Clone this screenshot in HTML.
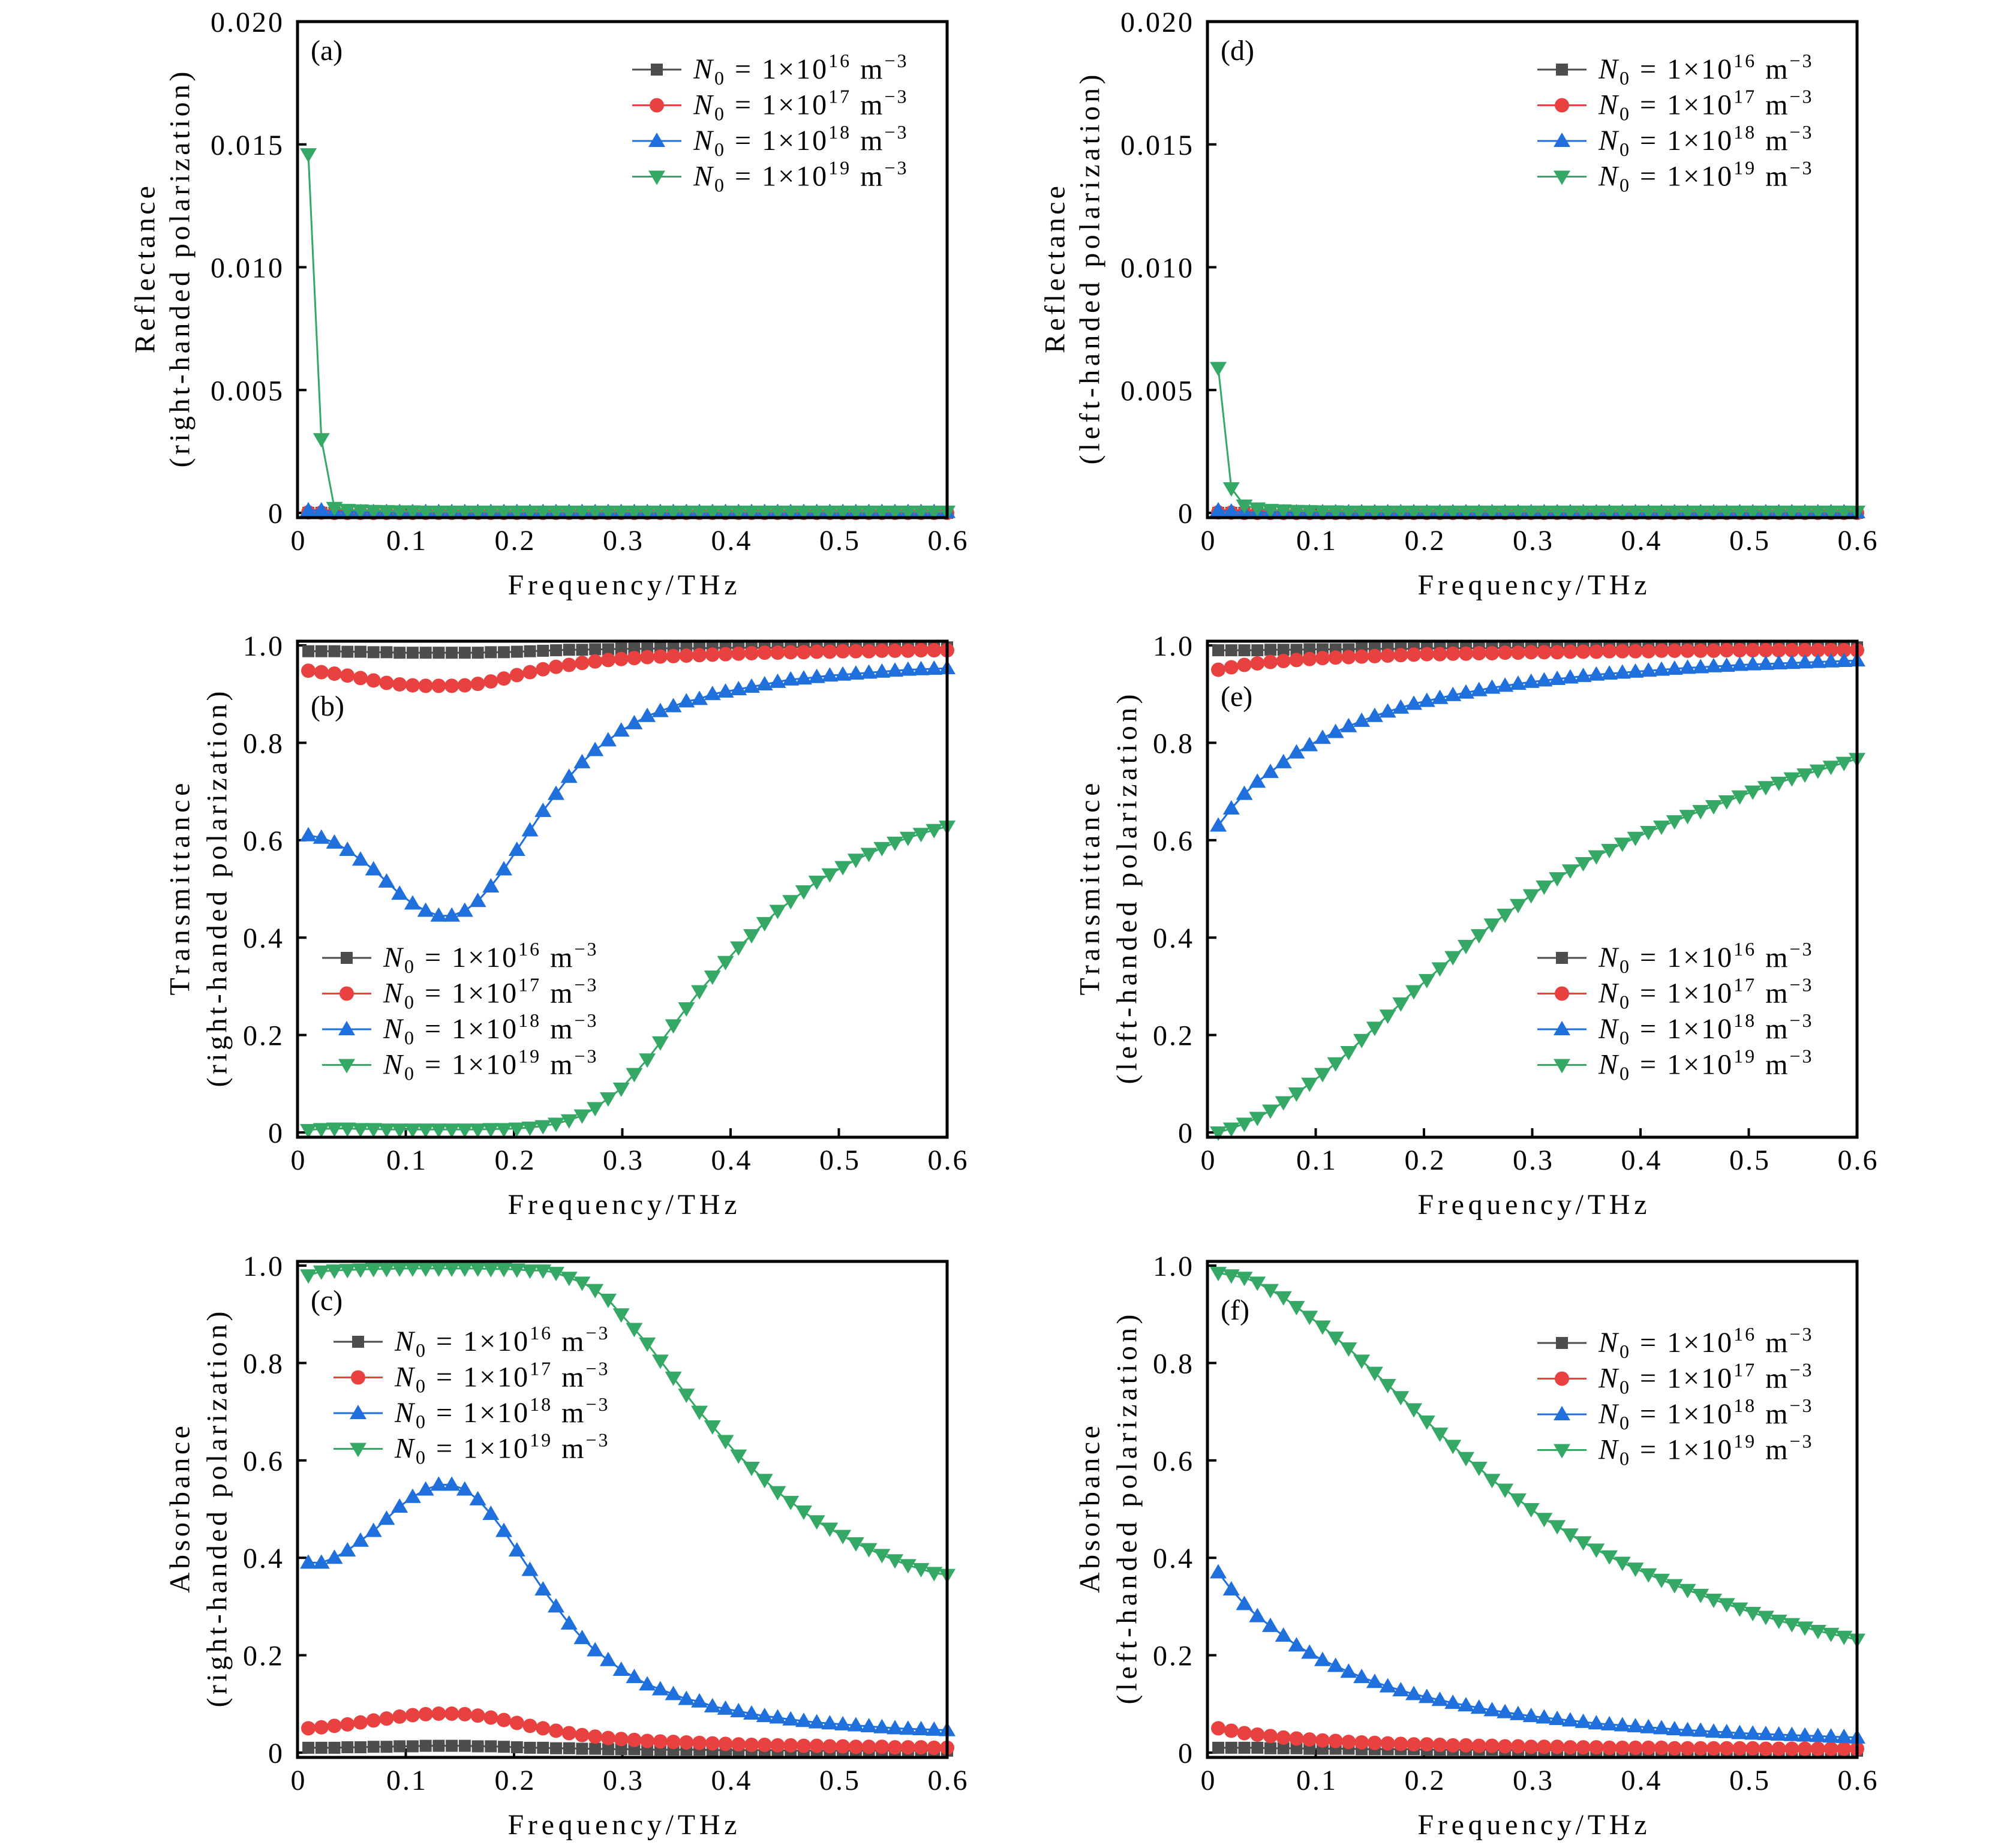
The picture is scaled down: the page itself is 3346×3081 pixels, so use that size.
<!DOCTYPE html>
<html><head><meta charset="utf-8"><style>
html,body{margin:0;padding:0;background:#fff}
svg{display:block;font-family:"Liberation Serif",serif}
</style></head><body>
<svg id="fig" width="3346" height="3081" viewBox="0 0 3346 3081" xmlns="http://www.w3.org/2000/svg"></svg>
<script>
const freqCount = 50;
const freqStart = 0.01, freqEnd = 0.60;
const seriesNames = ["1e16","1e17","1e18","1e19"];
const legendExps = ["16","17","18","19"];
const xTicks = [0,0.1,0.2,0.3,0.4,0.5,0.6];
const xTickLabels = ["0","0.1","0.2","0.3","0.4","0.5","0.6"];
const rTicks = [0,0.005,0.010,0.015,0.020];
const rTickLabels = ["0","0.005","0.010","0.015","0.020"];
const taTicks = [0,0.2,0.4,0.6,0.8,1.0];
const taTickLabels = ["0","0.2","0.4","0.6","0.8","1.0"];

// (a) reflectance right-handed
const aBlack = [0,0,0,0,0,0,0,0,0,0,0,0,0,0,0,0,0,0,0,0,0,0,0,0,0,0,0,0,0,0,0,0,0,0,0,0,0,0,0,0,0,0,0,0,0,0,0,0,0,0];
const aRed = [0.00002,0.00001,0,0,0,0,0,0,0,0,0,0,0,0,0,0,0,0,0,0,0,0,0,0,0,0,0,0,0,0,0,0,0,0,0,0,0,0,0,0,0,0,0,0,0,0,0,0,0,0];
const aBlue = [0.0001,0.0001,0.00005,0.00004,0.00003,0.00003,0.00003,0.00003,0.00003,0.00003,0.00003,0.00003,0.00003,0.00003,0.00003,0.00003,0.00003,0.00003,0.00003,0.00003,0.00003,0.00003,0.00003,0.00003,0.00003,0.00003,0.00003,0.00003,0.00003,0.00003,0.00003,0.00003,0.00003,0.00003,0.00003,0.00003,0.00003,0.00003,0.00003,0.00003,0.00003,0.00003,0.00003,0.00003,0.00003,0.00003,0.00003,0.00003,0.00003,0.00003];
const aGreen = [0.0146,0.0030,0.0002,0.00012,0.0001,0.00008,0.00007,0.00006,0.00006,0.00005,0.00005,0.00005,0.00005,0.00005,0.00005,0.00005,0.00005,0.00005,0.00005,0.00005,0.00005,0.00005,0.00005,0.00005,0.00005,0.00005,0.00005,0.00005,0.00005,0.00005,0.00005,0.00005,0.00005,0.00005,0.00005,0.00005,0.00005,0.00005,0.00005,0.00005,0.00005,0.00005,0.00005,0.00005,0.00005,0.00005,0.00005,0.00005,0.00005,0.00005];
// (b) transmittance right-handed
const bBlack = [0.988,0.988,0.988,0.987,0.987,0.986,0.986,0.985,0.985,0.985,0.985,0.985,0.985,0.985,0.986,0.986,0.987,0.988,0.989,0.99,0.991,0.991,0.992,0.992,0.993,0.993,0.993,0.994,0.994,0.994,0.994,0.995,0.995,0.995,0.995,0.995,0.995,0.996,0.996,0.996,0.996,0.996,0.996,0.996,0.996,0.996,0.996,0.996,0.996,0.996];
const bRed = [0.948,0.945,0.942,0.938,0.933,0.928,0.923,0.92,0.918,0.917,0.917,0.917,0.918,0.921,0.926,0.932,0.939,0.945,0.951,0.956,0.96,0.964,0.967,0.97,0.972,0.974,0.976,0.977,0.978,0.979,0.98,0.981,0.982,0.983,0.984,0.985,0.985,0.986,0.986,0.987,0.987,0.988,0.988,0.988,0.989,0.989,0.989,0.99,0.99,0.99];
const bBlue = [0.61,0.605,0.595,0.58,0.56,0.54,0.515,0.49,0.47,0.455,0.445,0.445,0.455,0.475,0.505,0.54,0.58,0.62,0.66,0.695,0.73,0.76,0.785,0.805,0.825,0.84,0.855,0.865,0.875,0.885,0.89,0.9,0.905,0.91,0.915,0.92,0.925,0.93,0.932,0.935,0.938,0.94,0.942,0.944,0.946,0.948,0.95,0.951,0.952,0.953];
const bGreen = [0.005,0.007,0.008,0.008,0.007,0.007,0.006,0.006,0.006,0.006,0.006,0.006,0.006,0.006,0.007,0.007,0.008,0.01,0.013,0.018,0.025,0.035,0.05,0.07,0.09,0.12,0.15,0.185,0.22,0.255,0.29,0.32,0.35,0.38,0.405,0.43,0.455,0.475,0.495,0.515,0.53,0.545,0.56,0.572,0.584,0.595,0.605,0.613,0.621,0.628];
// (c) absorbance right-handed
const cBlack = [0.01,0.01,0.01,0.011,0.011,0.012,0.012,0.013,0.013,0.014,0.014,0.014,0.014,0.013,0.013,0.012,0.011,0.01,0.01,0.009,0.009,0.008,0.008,0.007,0.007,0.007,0.006,0.006,0.006,0.006,0.006,0.005,0.005,0.005,0.005,0.005,0.005,0.004,0.004,0.004,0.004,0.004,0.004,0.004,0.004,0.004,0.004,0.004,0.004,0.004];
const cRed = [0.05,0.052,0.055,0.058,0.062,0.066,0.07,0.074,0.077,0.079,0.08,0.08,0.079,0.076,0.072,0.067,0.061,0.055,0.05,0.045,0.04,0.036,0.033,0.03,0.028,0.026,0.024,0.023,0.022,0.021,0.02,0.019,0.018,0.017,0.016,0.016,0.015,0.015,0.014,0.014,0.013,0.013,0.012,0.012,0.012,0.011,0.011,0.011,0.01,0.01];
const cBlue = [0.39,0.39,0.40,0.415,0.435,0.455,0.48,0.505,0.525,0.54,0.55,0.55,0.54,0.52,0.49,0.455,0.415,0.375,0.335,0.3,0.265,0.235,0.21,0.19,0.17,0.155,0.14,0.13,0.12,0.11,0.105,0.095,0.09,0.085,0.08,0.075,0.072,0.068,0.065,0.062,0.06,0.058,0.056,0.054,0.052,0.05,0.049,0.048,0.047,0.046];
const cGreen = [0.98,0.988,0.99,0.991,0.992,0.993,0.993,0.994,0.994,0.994,0.994,0.994,0.994,0.994,0.993,0.993,0.992,0.99,0.99,0.985,0.975,0.965,0.95,0.93,0.90,0.87,0.84,0.805,0.77,0.735,0.70,0.67,0.64,0.61,0.585,0.56,0.535,0.515,0.495,0.475,0.46,0.445,0.43,0.418,0.406,0.395,0.385,0.377,0.369,0.365];
// (d) reflectance left-handed
const dBlack = [0,0,0,0,0,0,0,0,0,0,0,0,0,0,0,0,0,0,0,0,0,0,0,0,0,0,0,0,0,0,0,0,0,0,0,0,0,0,0,0,0,0,0,0,0,0,0,0,0,0];
const dRed = [0.00002,0.00001,0,0,0,0,0,0,0,0,0,0,0,0,0,0,0,0,0,0,0,0,0,0,0,0,0,0,0,0,0,0,0,0,0,0,0,0,0,0,0,0,0,0,0,0,0,0,0,0];
const dBlue = [0.0001,0.00005,0.00003,0.00002,0.00002,0.00002,0.00002,0.00002,0.00002,0.00002,0.00002,0.00002,0.00002,0.00002,0.00002,0.00002,0.00002,0.00002,0.00002,0.00002,0.00002,0.00002,0.00002,0.00002,0.00002,0.00002,0.00002,0.00002,0.00002,0.00002,0.00002,0.00002,0.00002,0.00002,0.00002,0.00002,0.00002,0.00002,0.00002,0.00002,0.00002,0.00002,0.00002,0.00002,0.00002,0.00002,0.00002,0.00002,0.00002,0.00002];
const dGreen = [0.0059,0.0010,0.0003,0.00018,0.00012,0.0001,0.00008,0.00007,0.00006,0.00006,0.00005,0.00005,0.00005,0.00005,0.00005,0.00005,0.00005,0.00005,0.00005,0.00005,0.00005,0.00005,0.00005,0.00005,0.00005,0.00005,0.00005,0.00005,0.00005,0.00005,0.00005,0.00005,0.00005,0.00005,0.00005,0.00005,0.00005,0.00005,0.00005,0.00005,0.00005,0.00005,0.00005,0.00005,0.00005,0.00005,0.00005,0.00005,0.00005,0.00005];
// (e) transmittance left-handed
const eBlack = [0.99,0.99,0.99,0.99,0.991,0.991,0.991,0.992,0.992,0.992,0.992,0.993,0.993,0.993,0.993,0.993,0.994,0.994,0.994,0.994,0.994,0.994,0.995,0.995,0.995,0.995,0.995,0.995,0.995,0.995,0.995,0.996,0.996,0.996,0.996,0.996,0.996,0.996,0.996,0.996,0.996,0.996,0.996,0.996,0.996,0.996,0.996,0.996,0.996,0.996];
const eRed = [0.95,0.955,0.96,0.963,0.966,0.968,0.97,0.972,0.974,0.975,0.976,0.977,0.978,0.979,0.98,0.981,0.982,0.982,0.983,0.983,0.984,0.984,0.985,0.985,0.986,0.986,0.986,0.987,0.987,0.987,0.988,0.988,0.988,0.988,0.989,0.989,0.989,0.989,0.989,0.99,0.99,0.99,0.99,0.99,0.99,0.99,0.99,0.99,0.99,0.99];
const eBlue = [0.63,0.665,0.695,0.72,0.74,0.76,0.78,0.795,0.81,0.822,0.834,0.845,0.855,0.864,0.872,0.88,0.886,0.892,0.898,0.903,0.908,0.913,0.917,0.921,0.925,0.928,0.931,0.934,0.937,0.94,0.942,0.944,0.946,0.948,0.95,0.952,0.954,0.955,0.957,0.958,0.96,0.961,0.962,0.963,0.964,0.965,0.966,0.967,0.968,0.969];
const eGreen = [0.0,0.008,0.018,0.03,0.045,0.062,0.08,0.1,0.12,0.142,0.165,0.19,0.215,0.24,0.265,0.29,0.313,0.337,0.36,0.383,0.405,0.427,0.447,0.467,0.487,0.505,0.522,0.538,0.553,0.567,0.58,0.593,0.605,0.617,0.628,0.639,0.65,0.66,0.67,0.68,0.69,0.7,0.709,0.718,0.727,0.735,0.743,0.751,0.759,0.767];
// (f) absorbance left-handed
const fBlack = [0.01,0.01,0.01,0.01,0.009,0.009,0.009,0.008,0.008,0.008,0.008,0.007,0.007,0.007,0.007,0.007,0.006,0.006,0.006,0.006,0.006,0.006,0.005,0.005,0.005,0.005,0.005,0.005,0.005,0.005,0.005,0.004,0.004,0.004,0.004,0.004,0.004,0.004,0.004,0.004,0.004,0.004,0.004,0.004,0.004,0.004,0.004,0.004,0.004,0.004];
const fRed = [0.05,0.045,0.04,0.037,0.034,0.031,0.029,0.027,0.025,0.024,0.022,0.021,0.02,0.019,0.018,0.017,0.017,0.016,0.015,0.015,0.014,0.014,0.013,0.013,0.012,0.012,0.012,0.011,0.011,0.011,0.01,0.01,0.01,0.01,0.01,0.009,0.009,0.009,0.009,0.009,0.009,0.009,0.008,0.008,0.008,0.008,0.008,0.008,0.008,0.008];
const fBlue = [0.37,0.335,0.305,0.28,0.26,0.24,0.22,0.205,0.19,0.178,0.166,0.155,0.145,0.136,0.128,0.12,0.114,0.108,0.102,0.097,0.092,0.087,0.083,0.079,0.075,0.072,0.069,0.066,0.063,0.06,0.058,0.056,0.054,0.052,0.05,0.048,0.046,0.045,0.043,0.042,0.04,0.039,0.038,0.037,0.036,0.035,0.034,0.033,0.032,0.031];
const fGreen = [0.985,0.98,0.975,0.965,0.95,0.935,0.915,0.895,0.875,0.852,0.83,0.805,0.78,0.755,0.73,0.705,0.68,0.655,0.63,0.605,0.585,0.56,0.54,0.52,0.5,0.48,0.465,0.448,0.432,0.417,0.403,0.39,0.378,0.366,0.355,0.344,0.334,0.324,0.314,0.305,0.296,0.287,0.279,0.271,0.264,0.257,0.25,0.244,0.238,0.232];

const NS = "http://www.w3.org/2000/svg";
const svg = document.getElementById("fig");
const colors = ["#4d4d4d","#e8413f","#1f6fdc","#35a866"];
const markers = ["square","circle","up","down"];

function mk(tag, attrs, parent){
  const e = document.createElementNS(NS, tag);
  for (const k in attrs) e.setAttribute(k, attrs[k]);
  (parent||svg).appendChild(e);
  return e;
}
function freqs(){
  const a=[]; for(let i=0;i<freqCount;i++) a.push(freqStart+(freqEnd-freqStart)*i/(freqCount-1)); return a;
}
function drawMarker(g, type, x, y, col){
  let m;
  if(type==="square") m = mk("rect",{x:x-10,y:y-10,width:20,height:20,fill:col},g);
  else if(type==="circle") m = mk("circle",{cx:x,cy:y,r:12,fill:col},g);
  else if(type==="up") m = mk("polygon",{points:`${x},${y-14} ${x-14},${y+10} ${x+14},${y+10}`,fill:col},g);
  else m = mk("polygon",{points:`${x},${y+14} ${x-14},${y-10} ${x+14},${y-10}`,fill:col},g);
  
  
}

const panels = [
  {id:"a",x0:496,y0:36,ymax:0.020,ticks:rTicks,labels:rTickLabels,data:[aBlack,aRed,aBlue,aGreen],t1:"Reflectance",t2:"(right-handed polarization)",l1:279,l2:660,tx:[-254,-196],lab:[518,100],leg:[1054,116]},
  {id:"b",x0:496,y0:1069,ymax:1.0,ticks:taTicks,labels:taTickLabels,data:[bBlack,bRed,bBlue,bGreen],t1:"Transmittance",t2:"(right-handed polarization)",l1:354,l2:660,tx:[-196,-134],lab:[518,1193],leg:[537,1597]},
  {id:"c",x0:496,y0:2103,ymax:1.0,ticks:taTicks,labels:taTickLabels,data:[cBlack,cRed,cBlue,cGreen],t1:"Absorbance",t2:"(right-handed polarization)",l1:279,l2:660,tx:[-196,-134],lab:[518,2184],leg:[556,2237]},
  {id:"d",x0:2013,y0:36,ymax:0.020,ticks:rTicks,labels:rTickLabels,data:[dBlack,dRed,dBlue,dGreen],t1:"Reflectance",t2:"(left-handed polarization)",l1:279,l2:650,tx:[-254,-196],lab:[2035,100],leg:[2563,116]},
  {id:"e",x0:2013,y0:1069,ymax:1.0,ticks:taTicks,labels:taTickLabels,data:[eBlack,eRed,eBlue,eGreen],t1:"Transmittance",t2:"(left-handed polarization)",l1:354,l2:650,tx:[-196,-134],lab:[2035,1177],leg:[2563,1597]},
  {id:"f",x0:2013,y0:2103,ymax:1.0,ticks:taTicks,labels:taTickLabels,data:[fBlack,fRed,fBlue,fGreen],t1:"Absorbance",t2:"(left-handed polarization)",l1:279,l2:650,tx:[-196,-134],lab:[2035,2200],leg:[2563,2239]}
];
const W=1083, H=827;

panels.forEach(p=>{
  const g = mk("g",{});
  
  
  const isR = p.ymax < 0.5;
  const yTop = isR ? p.y0 : p.y0+7;
  const yBot = p.y0+H-8;
  const sx = v => p.x0 + v/0.6*W;
  const sy = v => yBot - v/p.ymax*(yBot-yTop);
  p.ticks.forEach((t,i)=>{
    const y=sy(t);
    mk("line",{x1:p.x0,x2:p.x0+15,y1:y,y2:y,stroke:"#000","stroke-width":4},g);
    const tl = mk("text",{x:p.x0-22,y:y+17,"font-size":48,"letter-spacing":3,"text-anchor":"end"},g);
    tl.textContent = p.labels[i];
    
    
  });
  xTicks.forEach((t,i)=>{
    const x=sx(t);
    mk("line",{x1:x,x2:x,y1:p.y0+H,y2:p.y0+H-15,stroke:"#000","stroke-width":4},g);
    const tl = mk("text",{x:x+2,y:p.y0+H+54,"font-size":48,"letter-spacing":3,"text-anchor":"middle"},g);
    tl.textContent = xTickLabels[i];
    
    
  });
  const fr = freqs();
  p.data.forEach((arr,si)=>{
    const sg = mk("g",{},g);
    
    
    const pts = arr.map((v,i)=>sx(fr[i]).toFixed(1)+","+sy(v).toFixed(1)).join(" ");
    const pl = mk("polyline",{points:pts,fill:"none",stroke:colors[si],"stroke-width":3},sg);
    
    
    arr.forEach((v,i)=>drawMarker(sg,markers[si],sx(fr[i]),sy(v),colors[si]));
  });
  const fr2 = mk("rect",{x:p.x0,y:p.y0,width:W,height:H,fill:"none",stroke:"#000","stroke-width":5},g);
  
  
  const pl = mk("text",{x:p.lab[0],y:p.lab[1],"font-size":48},g);
  pl.textContent = "("+p.id+")";
  
  
  const xt = mk("text",{x:p.x0+W/2,y:p.y0+H+128,"font-size":48,"text-anchor":"middle",textLength:382,lengthAdjust:"spacing"},g);
  xt.textContent = "Frequency/THz";
  
  
  const cy = p.y0+H/2;
  const cx1 = p.x0+p.tx[0], cx2 = p.x0+p.tx[1];
  const y1 = mk("text",{x:cx1,y:cy,"font-size":48,"text-anchor":"middle",textLength:p.l1,lengthAdjust:"spacing",transform:`rotate(-90 ${cx1} ${cy})`,"dominant-baseline":"central"},g);
  y1.textContent = p.t1;
  
  
  const y2 = mk("text",{x:cx2,y:cy,"font-size":48,"text-anchor":"middle",textLength:p.l2,lengthAdjust:"spacing",transform:`rotate(-90 ${cx2} ${cy})`,"dominant-baseline":"central"},g);
  y2.textContent = p.t2;
  
  
  const lg = mk("g",{},g);
  
  
  const rowGap = 59.5;
  seriesNames.forEach((s,si)=>{
    const ly = p.leg[1] + si*rowGap;
    const eg = mk("g",{},lg);
    
    
    mk("line",{x1:p.leg[0],x2:p.leg[0]+82,y1:ly,y2:ly,stroke:colors[si],"stroke-width":3},eg);
    drawMarker(eg,markers[si],p.leg[0]+41,ly,colors[si]);
    const t = mk("text",{x:p.leg[0]+102,y:ly+15,"font-size":48,"letter-spacing":3},eg);
    t.innerHTML = `<tspan font-style="italic">N</tspan><tspan font-size="32" dy="10">0</tspan><tspan dy="-10"> = 1×10</tspan><tspan font-size="32" dy="-19">${legendExps[si]}</tspan><tspan dy="19"> m</tspan><tspan font-size="32" dy="-19">−3</tspan>`;
  });
});
</script>
</body></html>
